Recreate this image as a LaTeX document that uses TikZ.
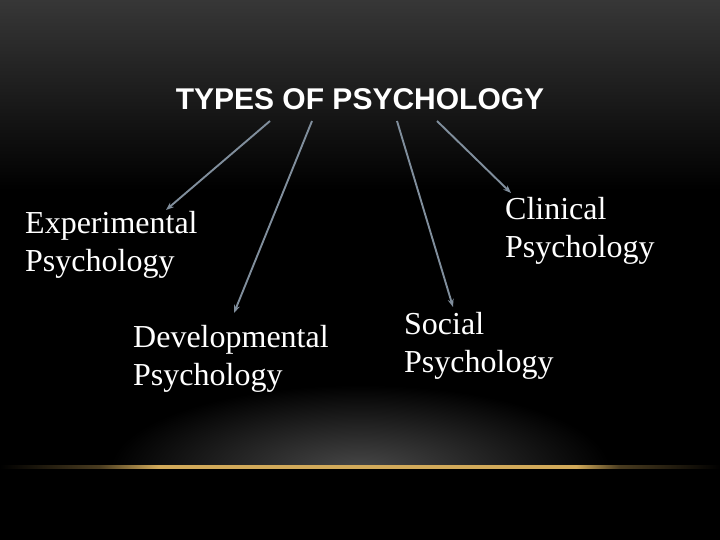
\documentclass[tikz,border=0pt]{standalone}
\usepackage{fontspec}
\setmainfont{Liberation Serif}
\newfontfamily\titlefont{Liberation Sans}
\usetikzlibrary{arrows.meta}
\definecolor{arrowgray}{RGB}{128,142,156}
\definecolor{goldc}{RGB}{210,170,90}
\definecolor{topgray}{RGB}{55,55,55}
\definecolor{glowgray}{RGB}{72,72,72}
\pgfdeclarehorizontalshading{goldline}{100bp}{color(0bp)=(black); color(25bp)=(black); color(27bp)=(goldc!10!black); color(31.9bp)=(goldc!35!black); color(36bp)=(goldc); color(65bp)=(goldc); color(68bp)=(goldc!35!black); color(73bp)=(goldc!10!black); color(75bp)=(black); color(100bp)=(black)}
\tikzset{
  label/.style={text=white, inner sep=0pt, anchor=base west, align=left, font=\fontsize{32}{38}\selectfont},
  conn/.style={draw=arrowgray, line width=1.9pt, -{Stealth[length=8pt,width=6pt]}}
}
\begin{document}
\begin{tikzpicture}[x=1pt,y=-1pt]
\useasboundingbox (0,0) rectangle (720,540);
\fill[black] (0,0) rectangle (720,540);
\shade[top color=topgray, bottom color=black] (0,0) rectangle (720,190);
\begin{scope}
  \clip (0,380) rectangle (720,466);
  \shade[inner color=glowgray, outer color=black] (360,470) ellipse (250 and 85);
\end{scope}
\shade[shading=goldline] (0,465.5) rectangle (720,468.5);
\node[text=white, inner sep=0pt, anchor=base, font=\titlefont\bfseries\fontsize{30}{36}\selectfont] (title) at (360,110) {TYPES OF PSYCHOLOGY};
\node[label] (exp) at (25,271) {Experimental\\Psychology};
\node[label] (dev) at (133,385) {Developmental\\Psychology};
\node[label] (cli) at (505,258) {Clinical\\Psychology};
\node[label] (soc) at (404,372) {Social\\Psychology};
\coordinate (s1) at (270,121);
\coordinate (s2) at (312,121);
\coordinate (s3) at (397,121);
\coordinate (s4) at (437,121);
\coordinate (e1) at (166,210);
\coordinate (e2) at (234,313);
\coordinate (e3) at (453,307);
\coordinate (e4) at (511,193);
\draw[conn] (s1) -- (e1);
\draw[conn] (s2) -- (e2);
\draw[conn] (s3) -- (e3);
\draw[conn] (s4) -- (e4);
\end{tikzpicture}
\end{document}
